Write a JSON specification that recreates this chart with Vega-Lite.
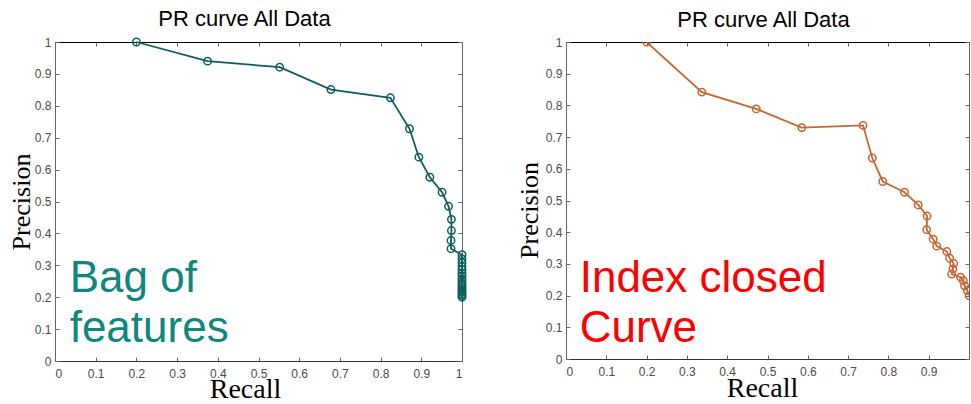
{
  "$schema": "https://vega.github.io/schema/vega-lite/v6.json",
  "padding": {"left": 8, "top": 8, "right": 0, "bottom": 0},
  "background": "white",
  "spacing": 47,
  "config": {
    "view": {"stroke": null},
    "axis": {"grid": false, "labelFont": "Liberation Sans", "labelFontSize": 12, "labelColor": "#4a4a4a", "tickColor": "#666", "domainColor": "#666", "tickSize": -4, "titleFont": "Liberation Serif", "titleFontWeight": "normal", "titleColor": "#000", "values": [0, 0.1, 0.2, 0.3, 0.4, 0.5, 0.6, 0.7, 0.8, 0.9, 1], "format": "~g"},
    "axisBottom": {"labelPadding": 11, "domainColor": "#333"},
    "axisLeft": {"labelPadding": 8},
    "title": {"font": "Liberation Sans", "fontSize": 22, "fontWeight": "normal", "color": "#000"}
  },
  "datasets": {
    "bof": [
      {"recall": 0.2, "precision": 1.0},
      {"recall": 0.375, "precision": 0.94},
      {"recall": 0.552, "precision": 0.921},
      {"recall": 0.678, "precision": 0.851},
      {"recall": 0.824, "precision": 0.825},
      {"recall": 0.871, "precision": 0.728},
      {"recall": 0.894, "precision": 0.639},
      {"recall": 0.921, "precision": 0.576},
      {"recall": 0.951, "precision": 0.529},
      {"recall": 0.967, "precision": 0.485},
      {"recall": 0.974, "precision": 0.444},
      {"recall": 0.974, "precision": 0.409},
      {"recall": 0.973, "precision": 0.378},
      {"recall": 0.973, "precision": 0.352},
      {"recall": 1.0, "precision": 0.333},
      {"recall": 1.0, "precision": 0.32},
      {"recall": 1.0, "precision": 0.308},
      {"recall": 1.0, "precision": 0.296},
      {"recall": 1.0, "precision": 0.286},
      {"recall": 1.0, "precision": 0.276},
      {"recall": 1.0, "precision": 0.267},
      {"recall": 1.0, "precision": 0.258},
      {"recall": 1.0, "precision": 0.25},
      {"recall": 1.0, "precision": 0.242},
      {"recall": 1.0, "precision": 0.235},
      {"recall": 1.0, "precision": 0.229},
      {"recall": 1.0, "precision": 0.222},
      {"recall": 1.0, "precision": 0.216},
      {"recall": 1.0, "precision": 0.21},
      {"recall": 1.0, "precision": 0.205},
      {"recall": 1.0, "precision": 0.2}
    ],
    "idx": [
      {"recall": 0.2, "precision": 1.0},
      {"recall": 0.337, "precision": 0.842},
      {"recall": 0.472, "precision": 0.789},
      {"recall": 0.585, "precision": 0.73},
      {"recall": 0.737, "precision": 0.737},
      {"recall": 0.76, "precision": 0.634},
      {"recall": 0.786, "precision": 0.56},
      {"recall": 0.84, "precision": 0.526},
      {"recall": 0.874, "precision": 0.486},
      {"recall": 0.896, "precision": 0.451},
      {"recall": 0.895, "precision": 0.408},
      {"recall": 0.911, "precision": 0.378},
      {"recall": 0.92, "precision": 0.356},
      {"recall": 0.945, "precision": 0.339},
      {"recall": 0.952, "precision": 0.318},
      {"recall": 0.962, "precision": 0.301},
      {"recall": 0.96, "precision": 0.284},
      {"recall": 0.957, "precision": 0.268},
      {"recall": 0.979, "precision": 0.258},
      {"recall": 0.986, "precision": 0.247},
      {"recall": 0.989, "precision": 0.231},
      {"recall": 0.996, "precision": 0.216},
      {"recall": 1.0, "precision": 0.2}
    ],
    "bofNote": [{"x": 0.036, "y": 0.215, "label": "Bag of\nfeatures"}],
    "idxNote": [{"x": 0.034, "y": 0.212, "label": "Index closed\nCurve"}]
  },
  "hconcat": [
    {
      "width": 407,
      "height": 319,
      "title": {"text": "PR curve All Data", "dx": -14},
      "layer": [
        {
          "data": {"name": "bof"},
          "mark": {"type": "line", "color": "#0e5e5b", "strokeWidth": 1.8},
          "encoding": {
            "x": {"field": "recall", "type": "quantitative", "scale": {"domain": [0, 1], "nice": false}, "axis": {"orient": "bottom", "title": "Recall", "titleFontSize": 28, "titleX": 190, "titleY": 36.5, "titleBaseline": "alphabetic", "titleAlign": "center"}},
            "y": {"field": "precision", "type": "quantitative", "scale": {"domain": [0, 1], "nice": false}, "axis": {"orient": "left", "title": "Precision", "titleFontSize": 26, "titleX": -26, "titleY": 159.5, "titleBaseline": "alphabetic", "titleAlign": "center", "titleAngle": 270}},
            "order": {"value": null}
          }
        },
        {
          "data": {"name": "bof"},
          "mark": {"type": "point", "shape": "circle", "filled": false, "color": "#0e5e5b", "size": 55, "strokeWidth": 1.5, "opacity": 1},
          "encoding": {
            "x": {"field": "recall", "type": "quantitative", "scale": {"domain": [0, 1], "nice": false}, "axis": {"orient": "top", "labels": false, "title": null, "domainColor": "#000"}},
            "y": {"field": "precision", "type": "quantitative", "scale": {"domain": [0, 1], "nice": false}, "axis": {"orient": "right", "labels": false, "title": null}}
          }
        },
        {
          "data": {"name": "bofNote"},
          "mark": {"type": "text", "align": "left", "baseline": "alphabetic", "font": "Liberation Sans", "fontSize": 44, "color": "#10877e", "lineBreak": "\n", "lineHeight": 50},
          "encoding": {
            "x": {"field": "x", "type": "quantitative", "axis": null},
            "y": {"field": "y", "type": "quantitative", "axis": null},
            "text": {"field": "label"}
          }
        }
      ],
      "resolve": {"axis": {"x": "independent", "y": "independent"}}
    },
    {
      "width": 403,
      "height": 317,
      "title": {"text": "PR curve All Data", "dx": -4},
      "layer": [
        {
          "data": {"name": "idx"},
          "mark": {"type": "line", "color": "#c96530", "strokeWidth": 1.8, "clip": true},
          "encoding": {
            "x": {"field": "recall", "type": "quantitative", "scale": {"domain": [0, 1], "nice": false}, "axis": {"orient": "bottom", "title": "Recall", "titleFontSize": 28, "titleX": 196, "titleY": 37, "titleBaseline": "alphabetic", "titleAlign": "center", "labelExpr": "datum.value == 1 ? '' : datum.label"}},
            "y": {"field": "precision", "type": "quantitative", "scale": {"domain": [0, 1], "nice": false}, "axis": {"orient": "left", "title": "Precision", "titleFontSize": 26, "titleX": -29, "titleY": 168, "titleBaseline": "alphabetic", "titleAlign": "center", "titleAngle": 270}},
            "order": {"value": null}
          }
        },
        {
          "data": {"name": "idx"},
          "mark": {"type": "point", "shape": "circle", "filled": false, "color": "#c96530", "size": 55, "strokeWidth": 1.5, "opacity": 1, "clip": true},
          "encoding": {
            "x": {"field": "recall", "type": "quantitative", "scale": {"domain": [0, 1], "nice": false}, "axis": {"orient": "top", "labels": false, "title": null, "domainColor": "#000"}},
            "y": {"field": "precision", "type": "quantitative", "scale": {"domain": [0, 1], "nice": false}, "axis": {"orient": "right", "labels": false, "title": null}}
          }
        },
        {
          "data": {"name": "idxNote"},
          "mark": {"type": "text", "align": "left", "baseline": "alphabetic", "font": "Liberation Sans", "fontSize": 44, "color": "#ff0000", "lineBreak": "\n", "lineHeight": 50},
          "encoding": {
            "x": {"field": "x", "type": "quantitative", "axis": null},
            "y": {"field": "y", "type": "quantitative", "axis": null},
            "text": {"field": "label"}
          }
        }
      ],
      "resolve": {"axis": {"x": "independent", "y": "independent"}}
    }
  ]
}
